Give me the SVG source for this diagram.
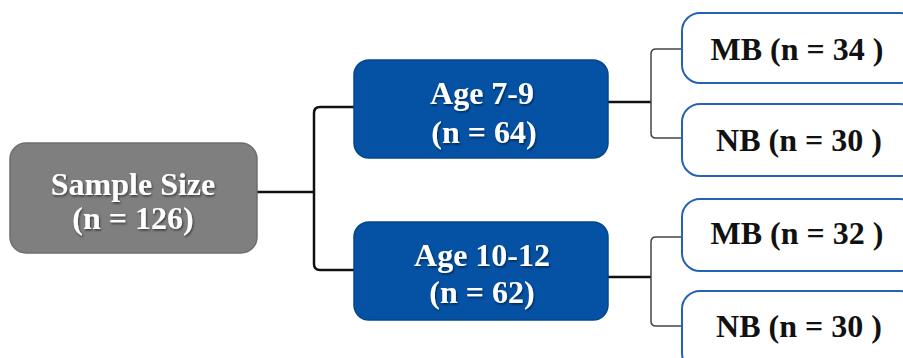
<svg xmlns="http://www.w3.org/2000/svg" width="903" height="358" viewBox="0 0 903 358">
  <defs>
    <filter id="shadow" x="-10%" y="-10%" width="120%" height="130%">
      <feDropShadow dx="1" dy="1.5" stdDeviation="0.8" flood-color="#000" flood-opacity="0.55"/>
    </filter>
  </defs>
  <style>
    .root { fill: #7f7f7f; stroke: #6e6e6e; stroke-width: 1.5; }
    .age { fill: #0552a5; stroke: #04468d; stroke-width: 1.5; }
    .leaf { fill: #ffffff; stroke: #2362b6; stroke-width: 2; }
    .lbl { font-family: "Liberation Serif", "Times New Roman", serif; font-weight: bold; font-size: 32px; text-anchor: middle; }
    .light { fill: #ffffff; filter: url(#shadow); }
    .dark { fill: #111111; }
    .trunk { fill: none; stroke: #111111; stroke-width: 2.5; }
    .twig { fill: none; stroke: #444444; stroke-width: 1.5; }
  </style>

  <g id="connectors">
    <path class="trunk" d="M257 192 H314"/>
    <path class="trunk" d="M354 107 H320 Q314 107 314 113 V264 Q314 270 320 270 H354"/>
    <path class="trunk" d="M608 102 H651"/>
    <path class="trunk" d="M608 277 H651"/>
    <path class="twig" d="M682 49 H656 Q651 49 651 54 V133 Q651 138 656 138 H682"/>
    <path class="twig" d="M682 237 H656 Q651 237 651 242 V321 Q651 326 656 326 H682"/>
  </g>

  <g id="sample-size">
    <rect class="root" x="10" y="143" width="247" height="110" rx="16"/>
    <text class="lbl light" x="133" y="195">Sample Size</text>
    <text class="lbl light" x="133" y="229">(n = 126)</text>
  </g>

  <g id="age-7-9">
    <rect class="age" x="354" y="60" width="254" height="98" rx="15"/>
    <text class="lbl light" x="482" y="104">Age 7-9</text>
    <text class="lbl light" x="484" y="143">(n = 64)</text>
  </g>

  <g id="age-10-12">
    <rect class="age" x="354" y="222" width="254" height="98" rx="15"/>
    <text class="lbl light" x="482" y="266">Age 10-12</text>
    <text class="lbl light" x="482" y="303">(n = 62)</text>
  </g>

  <g id="mb-34">
    <rect class="leaf" x="682" y="13" width="236" height="70" rx="18"/>
    <text class="lbl dark" x="797" y="60">MB (n = 34 )</text>
  </g>

  <g id="nb-30-a">
    <rect class="leaf" x="682" y="104" width="236" height="72" rx="18"/>
    <text class="lbl dark" x="799" y="151">NB (n = 30 )</text>
  </g>

  <g id="mb-32">
    <rect class="leaf" x="682" y="199" width="236" height="72" rx="18"/>
    <text class="lbl dark" x="797" y="244">MB (n = 32 )</text>
  </g>

  <g id="nb-30-b">
    <rect class="leaf" x="682" y="291" width="236" height="80" rx="18"/>
    <text class="lbl dark" x="799" y="337">NB (n = 30 )</text>
  </g>
</svg>
